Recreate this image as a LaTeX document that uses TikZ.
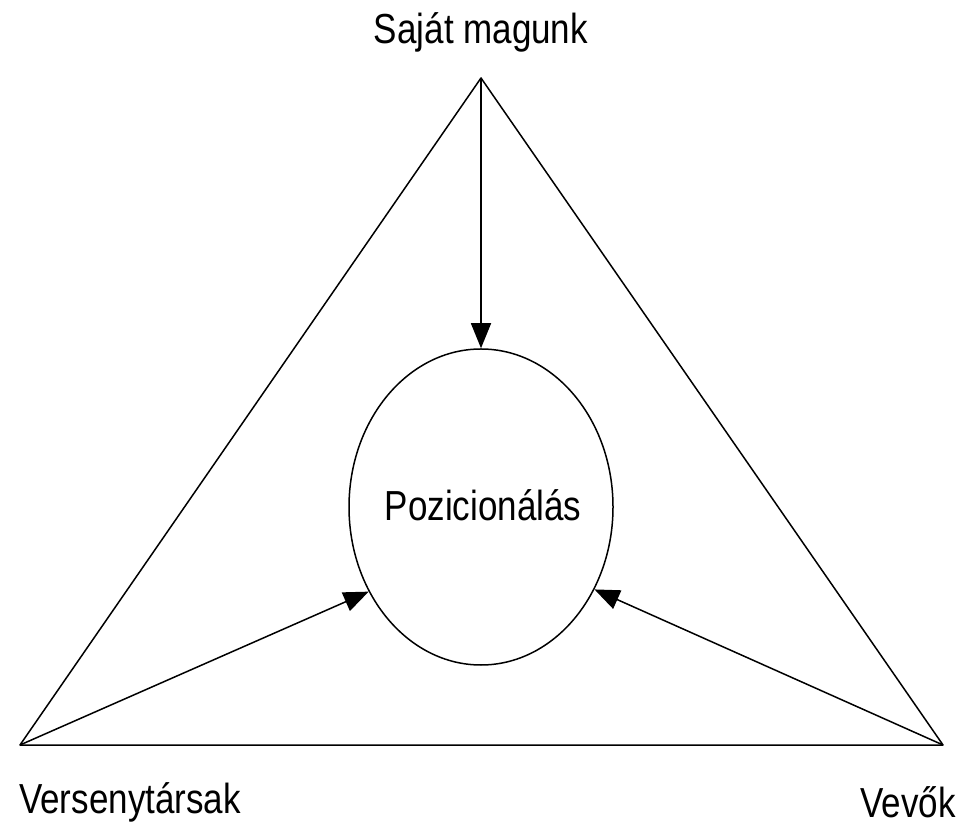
\documentclass[tikz,border=0pt]{standalone}
\usepackage{fontspec}
\setmainfont{Liberation Sans}
\usepackage{graphicx}
\usetikzlibrary{shapes.geometric,arrows.meta}
\tikzset{
  edge/.style={line width=1.5pt,line cap=round,line join=round},
  arr/.style={line width=1.5pt,-{Triangle[length=25pt,width=20pt]}},
  lbl/.style={inner sep=0pt,font=\fontsize{35pt}{40pt}\selectfont},
}
\newcommand{\stretched}[1]{\scalebox{1}[1.2]{#1}}
\begin{document}
\begin{tikzpicture}[x=1pt,y=1pt]
\useasboundingbox[fill=white] (0,0) rectangle (965,827);
\coordinate (T) at (481,749);
\coordinate (BL) at (20,82);
\coordinate (BR) at (943,82);
\draw[edge] (T) -- (BL) -- (BR) -- cycle;
\node[ellipse,draw,line width=1.5pt,minimum width=264pt,minimum height=316pt,inner sep=0pt] (P) at (481,320) {};
\node[lbl] (Ptext) at (483,322) {\stretched{Pozicionálás}};
\draw[arr] (T) -- (P.north);
\draw[arr] (BL) -- (P.217);
\draw[arr] (BR) -- (P.324);
\node[lbl] (S) at (481,795) {\stretched{Saját magunk}};
\node[lbl] (V) at (130,25) {\stretched{Versenytársak}};
\node[lbl] (W) at (908,25) {\stretched{Vevők}};
\end{tikzpicture}
\end{document}
